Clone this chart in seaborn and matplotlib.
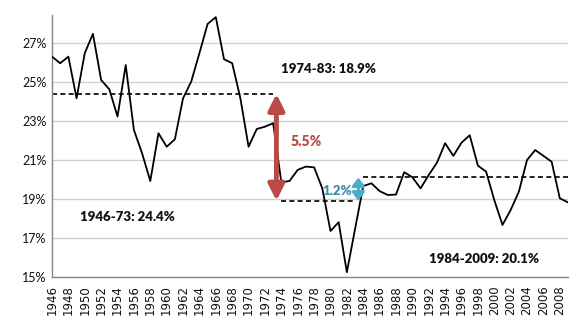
import matplotlib
matplotlib.use("Agg")
import matplotlib.pyplot as plt
import seaborn as sns
import pandas as pd

years = list(range(1946, 2010))
values = [26.31, 25.97, 26.31, 24.17, 26.49, 27.48, 25.11, 24.63, 23.23, 25.88,
          22.54, 21.34, 19.92, 22.37, 21.68, 22.06, 24.17, 25.03, 26.49, 27.99,
          28.34, 26.18, 25.97, 24.17, 21.68, 22.59, 22.71, 22.89, 19.85, 19.92,
          20.49, 20.66, 20.62, 19.54, 17.35, 17.80, 15.23, 17.45, 19.66, 19.80,
          19.40, 19.20, 19.22, 20.37, 20.11, 19.54, 20.23, 20.86, 21.86, 21.21,
          21.89, 22.27, 20.71, 20.40, 18.94, 17.66, 18.43, 19.37, 21.00, 21.51,
          21.21, 20.91, 19.03, 18.82]

period_starts = [1946, 1974, 1984]
period_ends = [1973, 1983, 2009]
period_means = [24.4, 18.9, 20.1]
period_labels = ["1946-73: 24.4%", "1974-83: 18.9%", "1984-2009: 20.1%"]
diff_labels = ["5.5%", "1.2%"]

y_ticks = [15, 17, 19, 21, 23, 25, 27]

df = pd.DataFrame({"year": years, "value": values})

sns.set_theme(style="white")
plt.rcParams['font.family'] = ['Lato', 'DejaVu Sans']

fig = plt.figure(figsize=(5.82, 3.23), dpi=100)
ax = fig.add_axes([52/582, 1 - 276.7/323, (568 - 52)/582, (276.7 - 15)/323])

for t in y_ticks:
    ax.axhline(t, color="#d0d0d0", lw=1.0, zorder=0)

sns.lineplot(data=df, x="year", y="value", ax=ax, color="black", lw=1.3, zorder=3)

for s, e, m in zip(period_starts, period_ends, period_means):
    ax.hlines(m, s, e, colors="black", linestyles=(0, (3, 2)), lw=1.2, zorder=2)

# arrows
red = "#b94a48"
teal = "#4bacc6"
ax.annotate("", xy=(1973.4, period_means[1]), xytext=(1973.4, period_means[0]),
            arrowprops=dict(arrowstyle="<|-|>,head_length=0.8,head_width=0.4",
                            color=red, lw=3.5, shrinkA=0, shrinkB=0), zorder=4)
ax.annotate("", xy=(1983.4, period_means[1]), xytext=(1983.4, period_means[2]),
            arrowprops=dict(arrowstyle="<|-|>,head_length=0.4,head_width=0.3",
                            color=teal, lw=2.2, shrinkA=0, shrinkB=0), zorder=4)

lab_kw = dict(fontsize=9.5, fontweight="heavy", ha="center", va="center", color="#111111")
ax.text(1955.2, 18.07, period_labels[0], **lab_kw)
ax.text(1979.8, 25.65, period_labels[1], **lab_kw)
ax.text(1998.7, 15.91, period_labels[2], **lab_kw)
ax.text(1975.1, 21.94, diff_labels[0], fontsize=10, fontweight="heavy", color=red, ha="left", va="center")
ax.text(1982.6, 19.42, diff_labels[1], fontsize=9.5, fontweight="heavy", color="#3a8fb0", ha="right", va="center")

ax.set_xlim(1946, 2009)
ax.set_ylim(15, 28.45)
ax.set_yticks(y_ticks)
ax.set_yticklabels([f"{t}%" for t in y_ticks], fontsize=9, color="#111111")
ax.set_xticks(years)
ax.set_xticklabels([str(y) if (y - 1946) % 2 == 0 else "" for y in years],
                   rotation=90, fontsize=8.5, family="DejaVu Sans", color="#111111")
ax.tick_params(axis="x", direction="out", length=4, width=0.8, color="#868686", pad=2)
ax.tick_params(axis="y", length=0, pad=4)
ax.set_xlabel("")
ax.set_ylabel("")
for side in ["top", "right"]:
    ax.spines[side].set_visible(False)
for side in ["left", "bottom"]:
    ax.spines[side].set_color("#868686")
    ax.spines[side].set_linewidth(1.0)

fig.savefig("out.png", dpi=100)
